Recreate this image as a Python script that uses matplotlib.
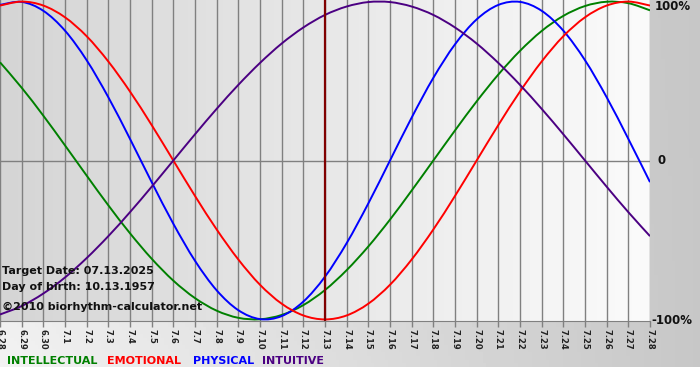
import numpy as np
import matplotlib
matplotlib.use('Agg')
import matplotlib.pyplot as plt
import matplotlib.colors as colors
from matplotlib.path import Path
from matplotlib.patches import PathPatch

# Day labels on the x-axis (6.28 .. 7.28):
lstDays = ['6.28', '6.29', '6.30'] + ['7.%d' % i for i in range(1, 29)]

# Curve values, one per day:
vecIntellectual = [0.618, 0.458, 0.282, 0.095, -0.095, -0.282, -0.458,
                   -0.618, -0.756, -0.866, -0.945, -0.990, -0.999, -0.972,
                   -0.910, -0.815, -0.690, -0.541, -0.372, -0.189, 0.000,
                   0.189, 0.372, 0.541, 0.690, 0.815, 0.910, 0.972, 0.999,
                   0.990, 0.945]
vecEmotional = [0.975, 1.000, 0.975, 0.901, 0.782, 0.623, 0.434, 0.223,
                0.000, -0.223, -0.434, -0.623, -0.782, -0.901, -0.975,
                -1.000, -0.975, -0.901, -0.782, -0.623, -0.434, -0.223,
                0.000, 0.223, 0.434, 0.623, 0.782, 0.901, 0.975, 1.000,
                0.975]
vecPhysical = [0.979, 0.998, 0.942, 0.817, 0.631, 0.398, 0.136, -0.136,
               -0.398, -0.631, -0.817, -0.942, -0.998, -0.979, -0.888,
               -0.731, -0.520, -0.270, 0.000, 0.270, 0.520, 0.731, 0.888,
               0.979, 0.998, 0.942, 0.817, 0.631, 0.398, 0.136, -0.136]
vecIntuitive = [-0.969, -0.916, -0.837, -0.736, -0.614, -0.476, -0.325,
                -0.165, 0.000, 0.165, 0.325, 0.476, 0.614, 0.736, 0.837,
                0.916, 0.969, 0.997, 0.997, 0.969, 0.916, 0.837, 0.736,
                0.614, 0.476, 0.325, 0.165, 0.000, -0.165, -0.325, -0.476]

# Target date position (7.13):
strTarget = '7.13'

# Colours:
strClrInt = '#008000'
strClrEmo = '#ff0000'
strClrPhy = '#0000ff'
strClrIntu = '#4b0082'
strClrGrid = '#808080'

varW = 700.0
varH = 380.0


def smooth_line(axs, vecX, vecY, strClr):
    """Draw a smooth (Catmull-Rom -> Bezier) line through the points."""
    aryPts = np.column_stack((vecX, vecY)).astype(float)
    aryExt = np.vstack((aryPts[0], aryPts, aryPts[-1]))
    lstVert = [aryPts[0]]
    lstCode = [Path.MOVETO]
    for idx in range(1, len(aryExt) - 2):
        vecP0, vecP1, vecP2, vecP3 = aryExt[idx - 1:idx + 3]
        lstVert += [vecP1 + (vecP2 - vecP0) / 6.0,
                    vecP2 - (vecP3 - vecP1) / 6.0,
                    vecP2]
        lstCode += [Path.CURVE4] * 3
    objPatch = PathPatch(Path(lstVert, lstCode), facecolor='none',
                         edgecolor=strClr, lw=1.4, zorder=3)
    axs.add_patch(objPatch)


fig01 = plt.figure(figsize=(7.0, 3.8), dpi=100.0, facecolor='white')

# Background axes for the grey margins (bottom band and right panel):
axsBg = fig01.add_axes([0.0, 13.0 / varH, 1.0, 367.0 / varH])
axsBg.set_axis_off()
vecGx = np.linspace(0.0, 1.0, 200)
vecGy = np.linspace(0.0, 1.0, 100)
aryGx, aryGy = np.meshgrid(vecGx, vecGy)
# light at left-bottom, grey at right:
aryBg = 0.95 - 0.17 * aryGx - 0.08 * aryGy * (1.0 - aryGx)
axsBg.imshow(aryBg, cmap='gray', vmin=0.0, vmax=1.0, aspect='auto',
             origin='lower', extent=[0, 1, 0, 1])
axsBg.set_xlim(0, 1)
axsBg.set_ylim(0, 1)

# Main plot axes:
axsMain = fig01.add_axes([0.0, 1.0 - 321.0 / varH, 650.0 / varW,
                          321.0 / varH])
vecPos = np.arange(len(lstDays))
axsMain.set_xlim(vecPos[0], vecPos[-1])
axsMain.set_ylim(-1.01, 1.01)

# Plot area gradient:
objCmap = colors.LinearSegmentedColormap.from_list(
    'bgGrad', ['#d5d5d5', '#fbfbfb'])
axsMain.imshow(np.linspace(0.0, 1.0, 256)[np.newaxis, :], cmap=objCmap,
               aspect='auto', extent=[vecPos[0], vecPos[-1], -1.01, 1.01],
               zorder=0)

# Grid:
for varX in vecPos:
    axsMain.axvline(varX, color=strClrGrid, lw=1.0, zorder=1)
axsMain.axhline(0.0, color=strClrGrid, lw=1.0, zorder=1)

# Curves:
smooth_line(axsMain, vecPos, vecIntellectual, strClrInt)
smooth_line(axsMain, vecPos, vecPhysical, strClrPhy)
smooth_line(axsMain, vecPos, vecEmotional, strClrEmo)
smooth_line(axsMain, vecPos, vecIntuitive, strClrIntu)

# Target date line:
axsMain.axvline(lstDays.index(strTarget), color='#800000', lw=1.6, zorder=4)

# Axes decorations:
for strSide in ['top', 'left', 'right']:
    axsMain.spines[strSide].set_visible(False)
axsMain.spines['bottom'].set_color(strClrGrid)
axsMain.set_yticks([])
axsMain.set_xticks(vecPos)
axsMain.set_xticklabels(lstDays, rotation=270, fontsize=6.0,
                        fontweight='bold', va='top', ha='center')
axsMain.tick_params(axis='x', length=4, width=1.0, color=strClrGrid,
                    pad=1.5, labelcolor='#222222')

# Info text:
dicTxt = dict(fontsize=8.0, fontweight='bold', color='#111111',
              va='center', ha='left')
fig01.text(2.0 / varW, 1.0 - 271.0 / varH, 'Target Date: 07.13.2025',
           **dicTxt)
fig01.text(2.0 / varW, 1.0 - 287.0 / varH, 'Day of birth: 10.13.1957',
           **dicTxt)
fig01.text(2.0 / varW, 1.0 - 307.0 / varH,
           '\u00a92010 biorhythm-calculator.net', **dicTxt)

# Right side percentage labels:
dicLbl = dict(fontsize=8.5, fontweight='bold', color='#111111',
              va='center', ha='left')
fig01.text(655.0 / varW, 1.0 - 7.0 / varH, '100%', **dicLbl)
fig01.text(657.0 / varW, 1.0 - 161.0 / varH, '0', **dicLbl)
fig01.text(651.0 / varW, 1.0 - 321.0 / varH, '-100%', **dicLbl)

# Legend row:
lstLgd = [('INTELLECTUAL', strClrInt, 7.0), ('EMOTIONAL', strClrEmo, 107.0),
          ('PHYSICAL', strClrPhy, 193.0), ('INTUITIVE', strClrIntu, 262.0)]
for strLbl, strClr, varX in lstLgd:
    fig01.text(varX / varW, 1.0 - 361.0 / varH, strLbl, fontsize=8.0,
               fontweight='bold', color=strClr, va='center', ha='left')

fig01.savefig('out.png', dpi=100.0, facecolor='white')
